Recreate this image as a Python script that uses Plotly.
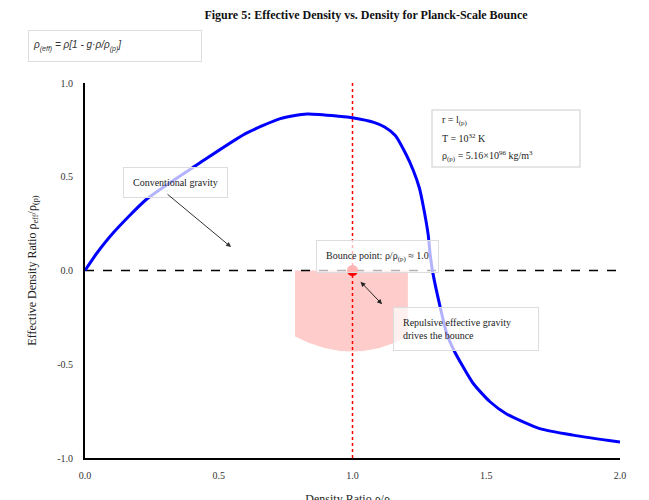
import plotly.graph_objects as go

# Data
density_ratio = [0.0, 0.044, 0.105, 0.23, 0.42, 0.60, 0.73, 0.83, 0.95, 1.0, 1.08,
                 1.12, 1.16, 1.20, 1.227, 1.25, 1.265, 1.283, 1.29, 1.30, 1.327, 1.352,
                 1.377, 1.45, 1.514, 1.576, 1.70, 1.825, 2.0]
effective_ratio = [0.0, 0.092, 0.20, 0.38, 0.565, 0.73, 0.81, 0.835, 0.823, 0.815, 0.79,
                   0.765, 0.72, 0.62, 0.535, 0.44, 0.34, 0.19, 0.09, -0.01, -0.19, -0.335,
                   -0.42, -0.60, -0.70, -0.765, -0.843, -0.878, -0.915]
bounce_x = [1.0]
bounce_y = [0.0]
x_ticks = [0.0, 0.5, 1.0, 1.5, 2.0]
x_tick_labels = ["0.0", "0.5", "1.0", "1.5", "2.0"]
y_ticks = [-1.0, -0.5, 0.0, 0.5, 1.0]
y_tick_labels = ["-1.0", "-0.5", "0.0", "0.5", "1.0"]

SERIF = "Liberation Serif"

fig = go.Figure()

fig.add_trace(go.Scatter(
    x=density_ratio, y=effective_ratio, mode="lines",
    line=dict(color="#0000ff", width=3, shape="spline", smoothing=0.6),
    showlegend=False, hoverinfo="skip"))

fig.add_trace(go.Scatter(
    x=bounce_x, y=bounce_y, mode="markers",
    marker=dict(color="#ff0000", size=11),
    showlegend=False, hoverinfo="skip"))

# shaded bounce region
fig.add_shape(type="path",
              path="M 0.785,0 L 0.785,-0.352 Q 1.0,-0.512 1.207,-0.352 L 1.207,0 Z",
              xref="x", yref="y", fillcolor="rgba(255,0,0,0.2)", line=dict(width=0),
              layer="below")
# zero line
fig.add_shape(type="line", x0=0, x1=2, y0=0, y1=0, xref="x", yref="y",
              line=dict(color="black", width=1.5, dash="dash"), layer="below")
# bounce vertical line
fig.add_shape(type="line", x0=1, x1=1, y0=-1, y1=1, xref="x", yref="y",
              line=dict(color="#ff0000", width=1.5, dash="dot"), layer="below")

box = dict(bgcolor="rgba(255,255,255,0.7)", bordercolor="#dddddd", borderwidth=1)

fig.add_annotation(x=0.34, y=0.467, xref="x", yref="y", showarrow=False,
                   text="Conventional gravity",
                   font=dict(family=SERIF, size=10, color="#222222"),
                   borderpad=9, **box)
# arrow for conventional gravity (drawn over the box)
fig.add_annotation(x=0.546, y=0.125, xref="x", yref="y", ax=-65, ay=-54,
                   text="", showarrow=True, arrowhead=2,
                   arrowsize=1, arrowwidth=1, arrowcolor="#333333")

fig.add_annotation(x=1.093, y=0.077, xref="x", yref="y", showarrow=False,
                   text="Bounce point: ρ/ρ<sub>(p)</sub> ≈ 1.0",
                   font=dict(family=SERIF, size=10, color="#222222"),
                   borderpad=9, **box)

fig.add_annotation(x=1.424, y=-0.31, xref="x", yref="y", showarrow=False,
                   text="Repulsive effective gravity<br>drives the bounce",
                   align="left",
                   font=dict(family=SERIF, size=10, color="#222222"),
                   width=126, borderpad=9, **box)
fig.add_annotation(x=1.03, y=-0.06, xref="x", yref="y", ax=23, ay=24,
                   text="", showarrow=True, arrowhead=2, arrowside="end+start",
                   arrowsize=1, arrowwidth=1, arrowcolor="#222222")

# parameters box
fig.add_shape(type="rect", xref="paper", yref="paper",
              x0=(432 - 85) / 535, x1=(580 - 85) / 535,
              y0=(458 - 167) / 375, y1=(458 - 110) / 375,
              line=dict(color="#dddddd", width=1.5), fillcolor="white")
param_lines = ["r = l<sub>(p)</sub>", "T = 10<sup>32</sup> K",
               "ρ<sub>(p)</sub> = 5.16×10<sup>96</sup> kg/m<sup>3</sup>"]
for i, t in enumerate(param_lines):
    fig.add_annotation(x=(440 - 85) / 535, y=(458 - (120 + 18 * i)) / 375,
                       xref="paper", yref="paper", xanchor="left", yanchor="middle",
                       text=t, showarrow=False,
                       font=dict(family=SERIF, size=10, color="#222222"))

# formula box
fig.add_annotation(x=(28 - 85) / 535, y=(458 - 46) / 375, xref="paper", yref="paper",
                   xanchor="left", yanchor="middle", showarrow=False, align="left",
                   text="<i>ρ<sub>(eff)</sub> = ρ[1 - g·ρ/ρ<sub>(p)</sub>]</i>",
                   font=dict(family="Liberation Sans", size=10, color="#333333"),
                   width=164, height=22, borderpad=4,
                   bgcolor="white", bordercolor="#dddddd", borderwidth=1)

fig.update_layout(
    width=649, height=500,
    margin=dict(l=77, r=37, t=75, b=50),
    paper_bgcolor="white", plot_bgcolor="white",
    title=dict(text="<b>Figure 5: Effective Density vs. Density for Planck-Scale Bounce</b>",
               x=358 / 649, xanchor="center", y=1 - 7 / 500, yanchor="middle",
               font=dict(family=SERIF, size=12, color="#111111")),
    font=dict(family=SERIF, size=10, color="#333333"),
    xaxis=dict(range=[0, 2], tickvals=x_ticks, ticktext=x_tick_labels, showgrid=False,
               zeroline=False, showline=True, linecolor="black", linewidth=2,
               ticks="", ticklabelstandoff=7, automargin=False,
               title=dict(text="Density Ratio ρ/ρ<sub>(p)</sub>", standoff=22,
                          font=dict(family=SERIF, size=12, color="#222222"))),
    yaxis=dict(range=[-1, 1], tickvals=y_ticks, ticktext=y_tick_labels, showgrid=False,
               zeroline=False, showline=True, linecolor="black", linewidth=2,
               ticks="", ticklabelstandoff=8, automargin=False,
               title=dict(text="Effective Density Ratio ρ<sub>eff</sub>/ρ<sub>(p)</sub>",
                          standoff=18,
                          font=dict(family=SERIF, size=12, color="#222222"))),
)

fig.write_html("out.html")
